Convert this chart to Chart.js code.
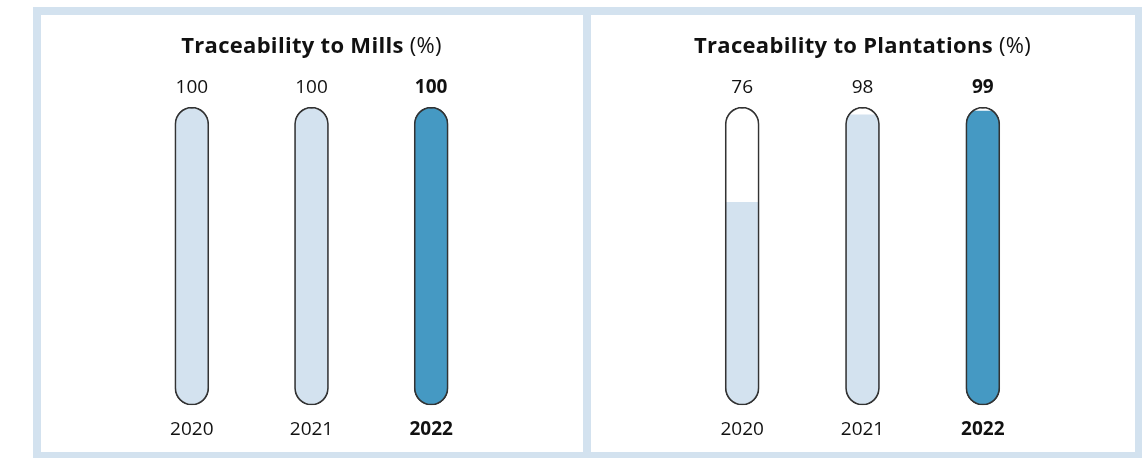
<!DOCTYPE html>
<html>
<head>
<meta charset="utf-8">
<script src="https://cdn.jsdelivr.net/npm/chart.js@4.4.0/dist/chart.umd.min.js"></script>
<style>
  html, body { margin: 0; padding: 0; background: #fff; }
  #frame { position: absolute; left: 33px; top: 7px; width: 1109px; height: 451px; background: #d3e2ef; }
  .panel { position: absolute; top: 8px; height: 437px; background: #fff; }
  #p1 { left: 8px; width: 542px; }
  #p2 { left: 558px; width: 544px; }
</style>
</head>
<body>
<div id="frame">
  <div class="panel" id="p1"><canvas id="millsChart"></canvas></div>
  <div class="panel" id="p2"><canvas id="plantChart"></canvas></div>
</div>
<script>
const years = ["2020", "2021", "2022"];
const millsValues = [100, 100, 100];
const plantationValues = [76, 98, 99];
const scaleMin = 25;
const scaleMax = 100;

const FONT = "'Open Sans', 'Noto Sans', sans-serif";
const lightBlue = "#d3e2ef";
const darkBlue = "#4599c3";
const barColors = [lightBlue, lightBlue, darkBlue];

// clip the fill bars to the capsule outline of the track bars
const capsuleClip = {
  id: "capsuleClip",
  beforeDatasetDraw(chart, args) {
    if (args.index !== 1) return;
    const ctx = chart.ctx;
    const track = chart.getDatasetMeta(0).data;
    ctx.save();
    ctx.beginPath();
    track.forEach((el) => {
      const w = el.width;
      ctx.roundRect(el.x - w / 2, el.y, w, el.base - el.y, w / 2);
    });
    ctx.clip();
  },
  afterDatasetDraw(chart, args) {
    if (args.index === 1) chart.ctx.restore();
  },
};

const labelsAndTitle = {
  id: "labelsAndTitle",
  afterDatasetsDraw(chart, args, opts) {
    const ctx = chart.ctx;
    const track = chart.getDatasetMeta(0).data;
    const values = chart.data.datasets[1].data;
    ctx.save();
    ctx.fillStyle = "#111";
    ctx.textAlign = "center";
    ctx.textBaseline = "alphabetic";
    track.forEach((el, i) => {
      ctx.font = (i === 2 ? "bold " : "") + "19px " + FONT;
      ctx.fillText(String(values[i]), el.x, el.y - 14);
    });
    // title: bold part + normal "(%)"
    ctx.letterSpacing = "0.3px";
    const boldFont = "bold 22px " + FONT;
    const normFont = "22px " + FONT;
    ctx.font = boldFont;
    const w1 = ctx.measureText(opts.title).width;
    ctx.font = normFont;
    const w2 = ctx.measureText(" (%)").width;
    const cx = (chart.chartArea.left + chart.chartArea.right) / 2;
    const x0 = cx - (w1 + w2) / 2;
    ctx.textAlign = "left";
    ctx.font = boldFont;
    ctx.fillText(opts.title, x0, 38);
    ctx.font = normFont;
    ctx.fillText(" (%)", x0 + w1, 38);
    ctx.restore();
  },
};

function makeChart(id, title, values) {
  new Chart(document.getElementById(id), {
    type: "bar",
    data: {
      labels: years,
      datasets: [
        {
          label: "track",
          data: years.map(() => scaleMax),
          base: scaleMin,
          backgroundColor: "rgba(0,0,0,0)",
          borderColor: "#333",
          borderWidth: 1,
          borderRadius: 17,
          borderSkipped: false,
          grouped: false,
          barThickness: 34,
        },
        {
          label: title,
          data: values,
          base: scaleMin,
          backgroundColor: barColors,
          borderWidth: 0,
          grouped: false,
          barThickness: 34,
        },
      ],
    },
    options: {
      responsive: false,
      animation: false,
      layout: { padding: { top: 92, bottom: 2, left: 91, right: 92 } },
      plugins: {
        legend: { display: false },
        tooltip: { enabled: false },
        labelsAndTitle: { title: title },
      },
      scales: {
        x: {
          grid: { display: false, drawTicks: false },
          border: { display: false },
          ticks: {
            padding: 13,
            color: "#111",
            font: (c) => ({ family: FONT, size: 19, weight: c.index === 2 ? "bold" : "normal" }),
          },
        },
        y: { display: false, min: scaleMin, max: scaleMax },
      },
    },
    plugins: [capsuleClip, labelsAndTitle],
  });
}

function sizeCanvas(id, w, h) {
  const c = document.getElementById(id);
  c.width = w; c.height = h;
  c.style.width = w + "px"; c.style.height = h + "px";
}
sizeCanvas("millsChart", 542, 441);
sizeCanvas("plantChart", 544, 441);

makeChart("millsChart", "Traceability to Mills", millsValues);
makeChart("plantChart", "Traceability to Plantations", plantationValues);
</script>
</body>
</html>
